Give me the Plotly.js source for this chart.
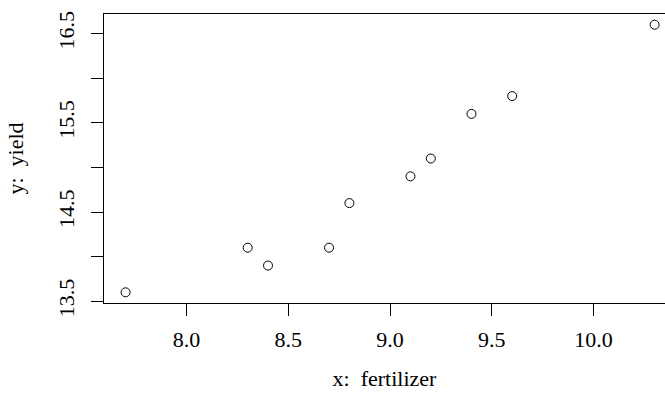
<!DOCTYPE html>
<html>
<head>
<meta charset="utf-8">
<script src="https://cdn.plot.ly/plotly-3.0.1.min.js"></script>
<style>
  html, body { margin: 0; padding: 0; background: #fff; }
  #chart { width: 665px; height: 397px; }
</style>
</head>
<body>
<div id="chart"></div>
<script>
// Fertilizer applied vs. crop yield
const fertilizer = [7.7, 8.3, 8.4, 8.7, 8.8, 9.1, 9.2, 9.4, 9.6, 10.3];
const yieldValues = [13.6, 14.1, 13.9, 14.1, 14.6, 14.9, 15.1, 15.6, 15.8, 16.6];

const xTickVals = [8.0, 8.5, 9.0, 9.5, 10.0];
const xTickText = ["8.0", "8.5", "9.0", "9.5", "10.0"];
const yTickVals = [13.5, 14.0, 14.5, 15.0, 15.5, 16.0, 16.5];
const yTickText = ["13.5", "", "14.5", "", "15.5", "", "16.5"];

const serif = "'Liberation Serif', serif";
const fontSize = 22;

const trace = {
  x: fertilizer,
  y: yieldValues,
  type: "scatter",
  mode: "markers",
  marker: {
    symbol: "circle-open",
    size: 9,
    color: "#000",
    line: { width: 1, color: "#000" }
  },
  hoverinfo: "x+y"
};

const layout = {
  width: 665,
  height: 397,
  margin: { l: 104, r: 0, t: 14, b: 94 },
  paper_bgcolor: "#fff",
  plot_bgcolor: "#fff",
  showlegend: false,
  font: { family: serif, size: fontSize, color: "#000" },
  xaxis: {
    range: [7.594, 10.351],
    tickvals: xTickVals,
    ticktext: xTickText,
    ticks: "outside",
    ticklen: 12,
    tickwidth: 1,
    tickcolor: "#000",
    showgrid: false,
    zeroline: false,
    showline: true,
    mirror: true,
    linecolor: "#000",
    linewidth: 1,
    ticklabelstandoff: 5,
    tickfont: { family: serif, size: fontSize, color: "#000" },
    title: { text: "x:  fertilizer", font: { family: serif, size: fontSize, color: "#000" }, standoff: 19 }
  },
  yaxis: {
    range: [13.48, 16.72],
    tickvals: yTickVals,
    ticktext: yTickText,
    tickangle: -90,
    ticks: "outside",
    ticklen: 12,
    tickwidth: 1,
    tickcolor: "#000",
    showgrid: false,
    zeroline: false,
    showline: true,
    linecolor: "#000",
    linewidth: 1,
    ticklabelstandoff: 8,
    tickfont: { family: serif, size: fontSize, color: "#000" },
    title: { text: "y:  yield", font: { family: serif, size: fontSize, color: "#000" }, standoff: 24 }
  }
};

Plotly.newPlot("chart", [trace], layout, { displayModeBar: false, staticPlot: true });
</script>
</body>
</html>
